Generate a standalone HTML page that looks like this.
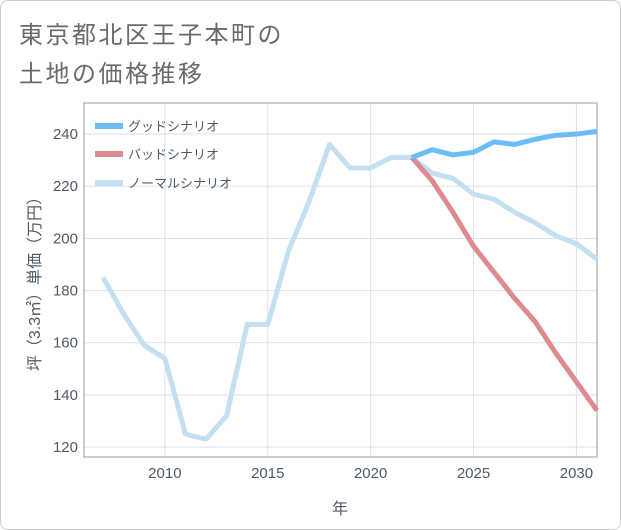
<!DOCTYPE html>
<html><head><meta charset="utf-8"><style>
body{margin:0;background:#fff;font-family:"Liberation Sans","Noto Sans CJK JP",sans-serif;}
#wrap{position:absolute;left:0;top:0;width:619px;height:528px;border:1px solid #ccc;border-radius:8px;}
.t{position:absolute;left:18px;color:#6a6a6a;font-size:24px;letter-spacing:2.5px;}
</style></head><body>
<div id="wrap">
<div class="t" style="top:14px">東京都北区王子本町の</div>
<div class="t" style="top:53px">土地の価格推移</div>
<svg id="c" width="621" height="530" style="position:absolute;left:-1px;top:-1px"></svg>
</div>
<script>
const years=[2007,2008,2009,2010,2011,2012,2013,2014,2015,2016,2017,2018,2019,2020,2021,2022,2023,2024,2025,2026,2027,2028,2029,2030,2031];
const normalVals=[185,171,159,154,125,123,132,167,167,195,214,236,227,227,231,231,225,223,217,215,210,206,201,198,192];
const goodYears=[2022,2023,2024,2025,2026,2027,2028,2029,2030,2031];
const goodVals=[231,234,232,233,237,236,238,239.5,240,241];
const badVals=[231,222,210,197,187,177,168,156,145,134];
const xTicks=[2010,2015,2020,2025,2030];
const yTicks=[120,140,160,180,200,220,240];
const L=84,R=597,T=103,B=457;
const X=v=>L+(v-2006.07)/(2031-2006.07)*(R-L);
const Y=v=>B-(v-116.2)/(251.9-116.2)*(B-T);
const svg=document.getElementById('c');const NS='http://www.w3.org/2000/svg';
const TC='#4e5a66';
function mk(tag,a,p){const e=document.createElementNS(NS,tag);for(const k in a)e.setAttribute(k,a[k]);(p||svg).appendChild(e);return e;}
xTicks.forEach(t=>{const l=mk('line',{x1:X(t),x2:X(t),y1:T,y2:B,stroke:'#d5e3ee'});


const s=mk('text',{x:X(t),y:B+21,'text-anchor':'middle','font-size':15,fill:TC});s.textContent=t;

});
yTicks.forEach(t=>{const l=mk('line',{x1:L,x2:R,y1:Y(t),y2:Y(t),stroke:'#d5e3ee'});


const s=mk('text',{x:L-6,y:Y(t)+5,'text-anchor':'end','font-size':15,fill:TC});s.textContent=t;

});
const bx=mk('rect',{x:L,y:T,width:R-L,height:B-T,fill:'none',stroke:'#999'});


function line(xs,vs,col,name){const p=mk('polyline',{points:xs.map((x,i)=>X(x)+','+Y(vs[i])).join(' '),fill:'none',stroke:col,'stroke-width':5,'stroke-linejoin':'round'});

}
line(years,normalVals,'#c3dff0','series-normal');
line(goodYears,badVals,'#de8a91','series-bad');
line(goodYears,goodVals,'#6bbdf3','series-good');
[['グッドシナリオ','#6bbdf3',126],['バッドシナリオ','#de8a91',154],['ノーマルシナリオ','#c3dff0',183]].forEach(([n,c,y])=>{
const g=mk('g',{});

mk('line',{x1:95,x2:123,y1:y,y2:y,stroke:c,'stroke-width':6},g);
const s=mk('text',{x:128,y:y+5,'font-size':13,fill:TC},g);s.textContent=n;});
const xt=mk('text',{x:340,y:514,'text-anchor':'middle','font-size':16,fill:TC});xt.textContent='年';


const yt=mk('text',{x:0,y:0,'text-anchor':'middle','font-size':16,fill:TC,transform:'translate(40,280) rotate(-90)'});yt.textContent='坪（3.3㎡）単価（万円）';


</script>
</body></html>
